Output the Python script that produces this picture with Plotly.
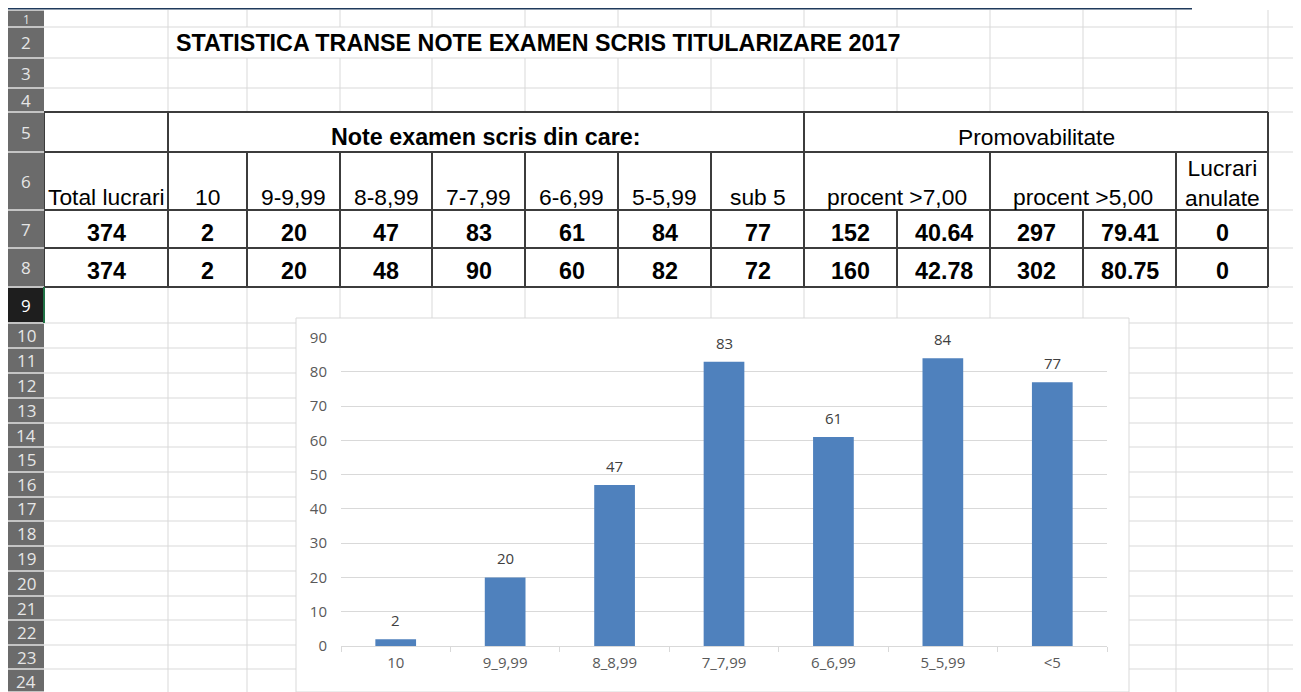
import plotly.graph_objects as go

# date din tabel
titlu = "STATISTICA TRANSE NOTE EXAMEN SCRIS TITULARIZARE 2017"
grup_note = "Note examen scris din care:"
grup_promo = "Promovabilitate"
antet_note = ["Total lucrari", "10", "9-9,99", "8-8,99", "7-7,99", "6-6,99", "5-5,99", "sub 5"]
antet_promo = ["procent >7,00", "procent >5,00", "Lucrari<br>anulate"]
rand_7 = [374, 2, 20, 47, 83, 61, 84, 77, 152, 40.64, 297, 79.41, 0]
rand_8 = [374, 2, 20, 48, 90, 60, 82, 72, 160, 42.78, 302, 80.75, 0]

# date grafic
transe = ["10", "9_9,99", "8_8,99", "7_7,99", "6_6,99", "5_5,99", "<5"]
nr_lucrari = [2, 20, 47, 83, 61, 84, 77]

# geometria foii, in pixeli de ecran (pagina are o margine de 8px)
SW, SH = 1301, 692
OFF = 8
W, H = SW - OFF, SH - OFF
COL = [44, 168, 247, 340, 432, 525, 618, 711, 804, 897, 990, 1083, 1176, 1268]
ROW = [-3, 27, 58, 88, 112, 152, 210, 248, 287, 323, 348, 373, 398, 423, 447,
       472, 497, 521, 546, 571, 596, 620, 645, 669, 694]
GRID = "#d9d9d9"
BORDER = "#3c3c3c"
ARIAL = "Liberation Sans"
CHART_FONT = "Open Sans"


def fx(x):
    return (x - OFF) / W


def fy(y):
    return 1 - (y - OFF) / H


shapes = []


def line(x0, y0, x1, y1, color=GRID, width=1):
    shapes.append(dict(type="line", xref="paper", yref="paper", layer="below",
                       x0=fx(x0), y0=fy(y0), x1=fx(x1), y1=fy(y1),
                       line=dict(color=color, width=width)))


def rect(x0, y0, x1, y1, fill, color=None, width=0):
    shapes.append(dict(type="rect", xref="paper", yref="paper", layer="below",
                       x0=fx(x0), y0=fy(y0), x1=fx(x1), y1=fy(y1), fillcolor=fill,
                       line=dict(color=color or fill, width=width)))


annots = []


def txt(x, y, s, size=22.8, bold=False, color="black", family=ARIAL, xanchor="center"):
    if bold:
        s = "<b>" + s + "</b>"
    annots.append(dict(xref="paper", yref="paper", x=fx(x), y=fy(y), text=s,
                       showarrow=False, xanchor=xanchor, yanchor="middle",
                       font=dict(family=family, size=size, color=color)))


# liniile de grila ale foii
for y in ROW[1:4]:
    line(44, y, SW, y)
for y in ROW[4:9]:
    line(1268, y, SW, y)
for y in ROW[9:24]:
    line(44, y, SW, y)
for x in COL[1:]:
    if 247 <= x <= 897:  # ascunse de titlu pe randul 2
        line(x, 10, x, 27)
        line(x, 58, x, 112)
    else:
        line(x, 10, x, 112)
    line(x, 287, x, SH)

# fundalul graficului
rect(296, 318, 1129, SH, "white", "#d9d9d9", 1)

# chenarele tabelului
for y in ROW[4:9]:
    line(44, y, 1268, y, BORDER, 2)
for x in [44, 168, 804, 1268]:
    line(x, 112, x, 152, BORDER, 2)
for x in COL[:9] + [990, 1176, 1268]:
    line(x, 152, x, 210, BORDER, 2)
for x in COL:
    line(x, 210, x, 287, BORDER, 2)

# antetele de rand
rect(8, 10, 44, SH, "#c4c4c4")
for i in range(24):
    top = max(ROW[i], 10)
    rect(8, top + 1, 44, min(ROW[i + 1], SH) - 1, "#1e1e1e" if i == 8 else "#6b6b6b")
    if i == 0:
        txt(26, 19, "1", size=12, color="#e6e6e6", family=CHART_FONT)
    else:
        txt(26, (ROW[i] + ROW[i + 1]) / 2, str(i + 1), size=17,
            color="white" if i == 8 else "#e6e6e6", family=CHART_FONT)
line(44, 287, 44, 323, "#217346", 2)
line(8, 8.5, 1192, 8.5, "#1f3a5c", 2)

# textele tabelului
txt(174, 43, titlu, size=23.3, bold=True, xanchor="left")
txt((COL[1] + COL[8]) / 2, 137, grup_note, size=23.3, bold=True)
txt((COL[8] + COL[13]) / 2, 137, grup_promo)
for i, s in enumerate(antet_note):
    txt((COL[i] + COL[i + 1]) / 2, 197, s)
txt((COL[8] + COL[10]) / 2, 197, antet_promo[0])
txt((COL[10] + COL[12]) / 2, 197, antet_promo[1])
txt((COL[12] + COL[13]) / 2, 183, antet_promo[2])
for i, (a, b) in enumerate(zip(rand_7, rand_8)):
    xc = (COL[i] + COL[i + 1]) / 2
    txt(xc, 233, str(a), size=23.3, bold=True)
    txt(xc, 271, str(b), size=23.3, bold=True)

fig = go.Figure(
    go.Bar(x=transe, y=nr_lucrari, marker=dict(color="#4f81bd", line=dict(width=0)),
           hovertemplate="%{x}: %{y}<extra></extra>")
)

# etichetele de date (x = pozitia categoriei)
for i, v in enumerate(nr_lucrari):
    annots.append(dict(xref="x", yref="y", x=i, y=v, text=str(v), showarrow=False,
                       yanchor="middle", yshift=19,
                       font=dict(family=CHART_FONT, size=15, color="#404040")))

fig.update_layout(
    width=W, height=H,
    margin=dict(l=0, r=0, t=0, b=0, autoexpand=False),
    paper_bgcolor="white",
    plot_bgcolor="rgba(0,0,0,0)",
    showlegend=False,
    bargap=0.628,
    shapes=shapes,
    annotations=annots,
    xaxis=dict(
        domain=[fx(341), fx(1107)], type="category", range=[-0.5, len(transe) - 0.5],
        showgrid=False, showline=True, linecolor=GRID, linewidth=1,
        ticks="outside", tickson="boundaries", ticklen=5, tickcolor=GRID,
        tickfont=dict(family=CHART_FONT, size=15, color="#595959"),
        ticklabelstandoff=3, automargin=False, fixedrange=True,
    ),
    yaxis=dict(
        domain=[fy(646), fy(337.7)], range=[0, 90], dtick=10, tick0=0,
        showgrid=True, gridcolor=GRID, gridwidth=1, zeroline=False, showline=False,
        tickfont=dict(family=CHART_FONT, size=15, color="#595959"),
        ticklabelstandoff=13, automargin=False, fixedrange=True,
    ),
)

fig.write_html("out.html")
